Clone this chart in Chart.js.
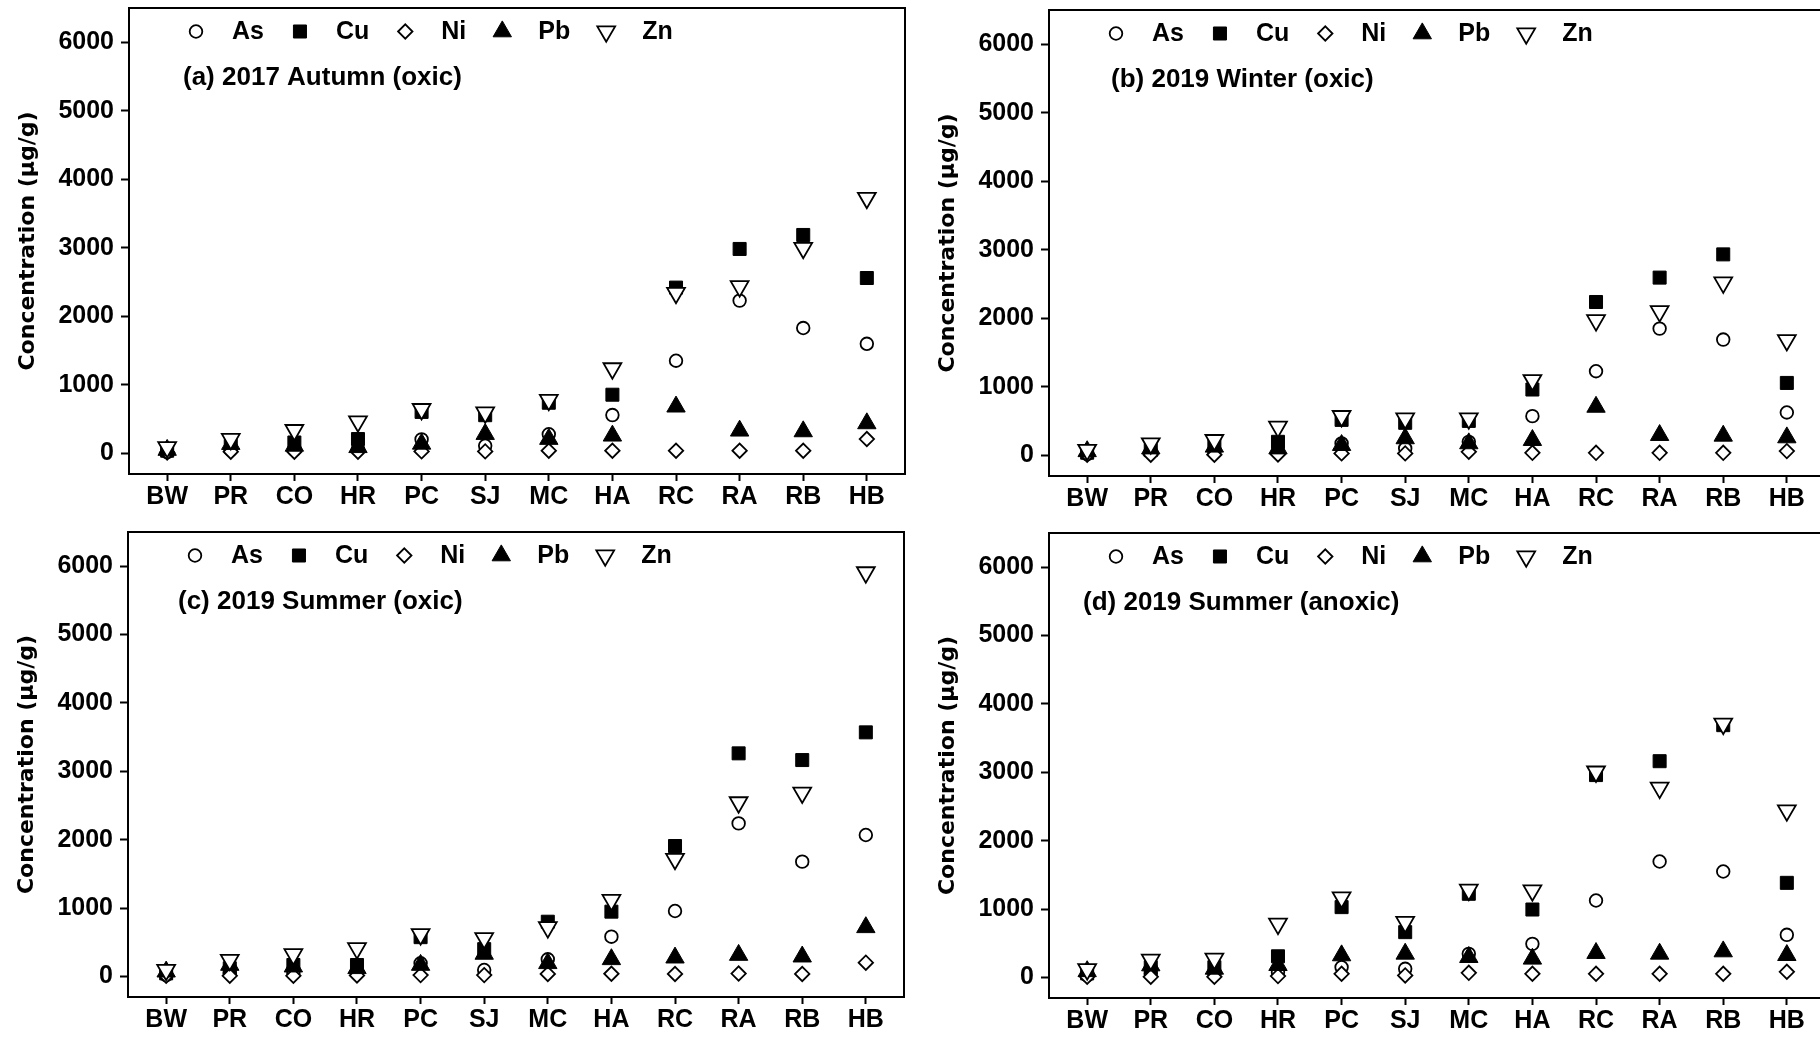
<!DOCTYPE html>
<html>
<head>
<meta charset="utf-8">
<script src="https://cdn.jsdelivr.net/npm/chart.js@4/dist/chart.umd.min.js"></script>
<style>
  html, body { margin: 0; padding: 0; background: #fff; width: 1820px; height: 1038px; overflow: hidden; position: relative; }
  canvas { position: absolute; }
</style>
</head>
<body>
<canvas id="pa" width="910" height="520" style="left:0px;top:0px"></canvas>
<canvas id="pb" width="910" height="520" style="left:920px;top:0px"></canvas>
<canvas id="pc" width="910" height="518" style="left:-1px;top:520px"></canvas>
<canvas id="pd" width="910" height="518" style="left:920px;top:520px"></canvas>
<script>
// Sampling sites along the river, upstream to downstream
const sites = ['BW', 'PR', 'CO', 'HR', 'PC', 'SJ', 'MC', 'HA', 'RC', 'RA', 'RB', 'HB'];
const yTickValues = [0, 1000, 2000, 3000, 4000, 5000, 6000];
const metals = ['As', 'Cu', 'Ni', 'Pb', 'Zn'];

// (a) 2017 Autumn, oxic sediment (µg/g)
const as2017Autumn = [20, 50, 50, 60, 205, 112, 280, 560, 1353, 2230, 1830, 1600];
const cu2017Autumn = [40, 110, 160, 210, 606, 558, 740, 857, 2420, 2984, 3188, 2560];
const ni2017Autumn = [15, 25, 25, 25, 30, 30, 40, 40, 40, 40, 40, 210];
const pb2017Autumn = [50, 136, 110, 90, 140, 282, 210, 258, 682, 331, 321, 438];
const zn2017Autumn = [90, 209, 340, 466, 646, 597, 780, 1241, 2341, 2438, 2998, 3728];

// (b) 2019 Winter, oxic sediment (µg/g)
const as2019Winter = [20, 50, 50, 60, 175, 102, 198, 573, 1229, 1851, 1691, 627];
const cu2019Winter = [40, 78, 150, 199, 519, 476, 504, 962, 2239, 2595, 2934, 1058];
const ni2019Winter = [10, 10, 10, 15, 30, 30, 53, 38, 38, 38, 38, 63];
const pb2019Winter = [60, 100, 126, 100, 150, 248, 175, 223, 708, 296, 286, 262];
const zn2019Winter = [80, 175, 223, 417, 573, 539, 539, 1098, 1972, 2103, 2522, 1681];

// (c) 2019 Summer, oxic sediment (µg/g)
const as2019SummerOxic = [20, 50, 50, 60, 193, 95, 251, 582, 958, 2239, 1679, 2069];
const cu2019SummerOxic = [46, 120, 168, 168, 575, 400, 801, 948, 1908, 3263, 3165, 3570];
const ni2019SummerOxic = [10, 10, 10, 15, 20, 20, 37, 40, 37, 43, 37, 202];
const pb2019SummerOxic = [70, 168, 144, 120, 168, 330, 193, 251, 275, 314, 290, 719];
const zn2019SummerOxic = [95, 241, 324, 412, 617, 559, 719, 1118, 1718, 2546, 2687, 5909];

// (d) 2019 Summer, anoxic sediment (µg/g)
const as2019SummerAnoxic = [30, 50, 50, 80, 150, 127, 346, 492, 1126, 1696, 1550, 624];
const cu2019SummerAnoxic = [60, 150, 150, 310, 1029, 663, 1224, 994, 2960, 3163, 3690, 1384];
const ni2019SummerAnoxic = [10, 10, 10, 20, 54, 30, 68, 54, 54, 54, 54, 83];
const pb2019SummerAnoxic = [90, 175, 126, 180, 322, 346, 297, 273, 356, 346, 380, 326];
const zn2019SummerAnoxic = [120, 259, 273, 785, 1170, 810, 1282, 1272, 3010, 2773, 3709, 2442];

const FONT = "'Liberation Sans', Arial, Helvetica, sans-serif";

// Marker look for each metal
const markerStyles = {
  As: { pointStyle: 'circle',   radius: 6.3, rotation: 0,   fill: '#ffffff', borderWidth: 1.8 },
  Cu: { pointStyle: 'rect',     radius: 9.2, rotation: 0,   fill: '#000000', borderWidth: 1 },
  Ni: { pointStyle: 'rectRot',  radius: 7.2, rotation: 0,   fill: '#ffffff', borderWidth: 1.8 },
  Pb: { pointStyle: 'triangle', radius: 10.6, rotation: 0,  fill: '#000000', borderWidth: 1 },
  Zn: { pointStyle: 'triangle', radius: 10.3, rotation: 180, fill: '#ffffff', borderWidth: 1.8 }
};
// later metals are painted on top
const drawOrder = { As: 4, Cu: 3, Ni: 2, Pb: 1, Zn: 0 };

const panels = [
  { canvas: 'pa', title: '(a) 2017 Autumn (oxic)', padTop: 8, axisH: 46, titleDX: 54,
    series: [as2017Autumn, cu2017Autumn, ni2017Autumn, pb2017Autumn, zn2017Autumn] },
  { canvas: 'pb', title: '(b) 2019 Winter (oxic)', padTop: 10, axisH: 44, titleDX: 62,
    series: [as2019Winter, cu2019Winter, ni2019Winter, pb2019Winter, zn2019Winter] },
  { canvas: 'pc', title: '(c) 2019 Summer (oxic)', padTop: 12, axisH: 41, titleDX: 50,
    series: [as2019SummerOxic, cu2019SummerOxic, ni2019SummerOxic, pb2019SummerOxic, zn2019SummerOxic] },
  { canvas: 'pd', title: '(d) 2019 Summer (anoxic)', padTop: 13, axisH: 40, titleDX: 34,
    series: [as2019SummerAnoxic, cu2019SummerAnoxic, ni2019SummerAnoxic, pb2019SummerAnoxic, zn2019SummerAnoxic] }
];

function drawMarker(ctx, st, x, y) {
  ctx.save();
  ctx.fillStyle = st.fill;
  ctx.strokeStyle = '#000';
  ctx.lineWidth = st.borderWidth;
  if (Chart.helpers && Chart.helpers.drawPoint) {
    Chart.helpers.drawPoint(ctx, { pointStyle: st.pointStyle, rotation: st.rotation, radius: st.radius, borderWidth: st.borderWidth }, x, y);
  } else {
    ctx.beginPath();
    ctx.arc(x, y, st.radius, 0, Math.PI * 2);
    ctx.fill(); ctx.stroke();
  }
  ctx.restore();
}

// Frame around the plot, in-plot legend and panel caption
const panelDecor = {
  id: 'panelDecor',
  afterDatasetsDraw(chart, args, opts) {
    const { ctx, chartArea: ca } = chart;
    ctx.save();
    ctx.strokeStyle = '#000';
    ctx.lineWidth = 2;
    ctx.strokeRect(ca.left, ca.top, ca.right - ca.left, ca.bottom - ca.top);

    ctx.font = 'bold 25px ' + FONT;
    ctx.fillStyle = '#000';
    ctx.textBaseline = 'middle';
    ctx.textAlign = 'left';
    let x = ca.left + 67;
    const y = ca.top + 23.5;
    chart.data.datasets.forEach(ds => {
      const st = markerStyles[ds.label];
      drawMarker(ctx, st, x, y);
      const tx = x + 36;
      ctx.fillStyle = '#000';
      ctx.fillText(ds.label, tx, y + 1);
      x = tx + ctx.measureText(ds.label).width + 36;
    });

    ctx.font = 'bold 26px ' + FONT;
    ctx.fillText(opts.title, ca.left + opts.titleDX, ca.top + 70);
    ctx.restore();
  }
};

panels.forEach(p => {
  const datasets = metals.map((m, k) => {
    const st = markerStyles[m];
    return {
      label: m,
      data: p.series[k].map((v, i) => ({ x: i, y: v })),
      pointStyle: st.pointStyle,
      pointRadius: st.radius,
      pointRotation: st.rotation,
      backgroundColor: st.fill,
      borderColor: '#000',
      borderWidth: st.borderWidth,
      pointHoverRadius: st.radius,
      order: drawOrder[m]
    };
  });

  new Chart(document.getElementById(p.canvas), {
    type: 'scatter',
    data: { datasets },
    plugins: [panelDecor],
    options: {
      responsive: false,
      animation: false,
      devicePixelRatio: 1,
      events: [],
      layout: { autoPadding: false, padding: { top: p.padTop, right: 5, bottom: 0, left: 0 } },
      plugins: {
        legend: { display: false },
        tooltip: { enabled: false },
        panelDecor: { title: p.title, titleDX: p.titleDX }
      },
      scales: {
        x: {
          type: 'linear',
          min: -0.6,
          max: 11.6,
          afterBuildTicks: s => { s.ticks = sites.map((_, i) => ({ value: i })); },
          afterFit: s => { s.height = p.axisH; s.paddingLeft = 0; s.paddingRight = 0; },
          ticks: {
            autoSkip: false,
            maxRotation: 0,
            padding: 1,
            color: '#000',
            font: { family: FONT, weight: 'bold', size: 25 },
            callback: v => sites[v]
          },
          grid: { drawOnChartArea: false, drawTicks: true, tickLength: 7, tickWidth: 2, tickColor: '#000' },
          border: { display: true, color: '#000', width: 2 }
        },
        y: {
          min: -300,
          max: 6500,
          afterBuildTicks: s => { s.ticks = yTickValues.map(v => ({ value: v })); },
          afterFit: s => { s.width = 129; s.paddingTop = 0; s.paddingBottom = 0; },
          ticks: {
            padding: 7,
            color: '#000',
            font: { family: FONT, weight: 'bold', size: 25 },
            callback: v => String(v)
          },
          grid: { drawOnChartArea: false, drawTicks: true, tickLength: 8, tickWidth: 2, tickColor: '#000' },
          border: { display: true, color: '#000', width: 2 },
          title: {
            display: true,
            text: 'Concentration (µg/g)',
            color: '#000',
            font: { family: "'DejaVu Sans', Verdana, sans-serif", weight: 'bold', size: 22 },
            padding: { top: 15, bottom: 0 }
          }
        }
      }
    }
  });
});
</script>
</body>
</html>
